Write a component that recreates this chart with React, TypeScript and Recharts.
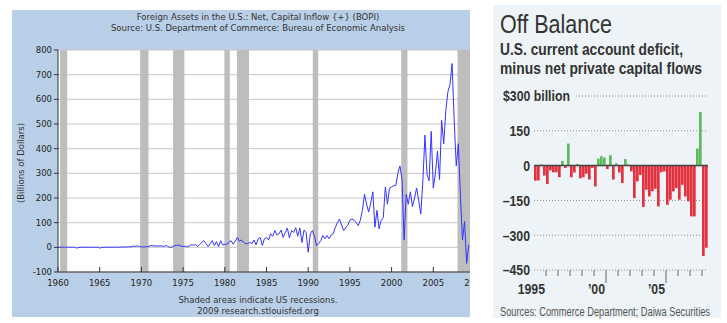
import React from 'react';
import {
  ComposedChart,
  BarChart,
  Bar,
  Cell,
  Line,
  XAxis,
  YAxis,
  CartesianGrid,
  ReferenceArea,
  ReferenceLine,
} from 'recharts';

// Left: FRED series BOPI, quarterly from 1960Q1, billions of dollars
const inflowStartYear = 1960;
const inflowByQuarter = [
  0, 0, 1, 0, 1, 0, 0, 1, 0, -3, 0, 0, 1, 0, 1, 0, 1, 0, 0, 1,
  -3, 0, 0, 1, 0, 1, 0, 1, 1, 0, 1, 1, 2, 1, 2, 2, 5, 4, 6, 4,
  2, 1, 2, 3, 5, 8, 5, 6, 5, 6, 5, 4, 8, 2, 0, 2, 7, 8, 9, 5,
  3, 5, 2, 6, 10, 9, 11, 3, 12, 20, 27, 15, 3, 15, 27, 7, 23, 3, 27, 10,
  12, 13, 20, 27, 13, 25, 40, 25, 30, 20, 15, 15, 20, 15, 30, 10, 35, 40, 8, 35,
  40, 30, 55, 45, 68, 50, 55, 70, 40, 60, 78, 38, 68, 60, 80, 45, 78, 20, 70, 60,
  -20, 55, 68, 45, 7, 15, 27, 48, 35, 48, 35, 50, 55, 80, 100, 115, 90, 68, 80, 90,
  110, 115, 110, 100, 88, 110, 150, 215, 175, 143, 180, 225, 82, 150, 75, 110, 120, 245, 175, 240,
  245, 250, 250, 300, 330, 275, 30, 215, 175, 225, 165, 200, 240, 190, 135, 270, 455, 295, 270, 470,
  240, 300, 390, 275, 515, 420, 555, 630, 660, 745, 520, 330, 420, 210, 30, 105, -65, 10,
];
const inflowData = inflowByQuarter.map((value, i) => ({ year: inflowStartYear + i / 4, value }));

const recessionStarts = [1960.25, 1969.85, 1973.8, 1979.95, 1981.45, 1990.55, 2001.15, 2007.9];
const recessionEnds = [1961.1, 1970.85, 1975.15, 1980.6, 1982.9, 1991.2, 2001.9, 2009.5];
const inflowYearTicks = [1960, 1965, 1970, 1975, 1980, 1985, 1990, 1995, 2000, 2005, 2010];
const inflowValueTicks = [-100, 0, 100, 200, 300, 400, 500, 600, 700, 800];

// Right: WSJ "Off Balance", quarterly from 1995Q1, billions of dollars
const balanceStartYear = 1995;
const balanceByQuarter = [
  -65, -64, 5, -43, -79, -21, -29, -29, -50, 20, -10, 95, -50, -30, 7, -55,
  -50, -35, -60, -10, -90, 30, 40, 35, -15, 45, -60, 10, -30, -75, 28, 5,
  -25, -140, -68, -40, -178, -104, -133, -111, -100, -176, -29, -25, -169, -147, -111, -97,
  -147, -83, -133, -154, -219, -219, 74, 231, -390, -354,
];
const balanceData = balanceByQuarter.map((value, i) => ({
  year: balanceStartYear + i / 4 + 0.125,
  value,
}));
const balanceValueTicks = [-450, -300, -150, 0, 150, 300];
const balanceYearTicks = [1996, 1997, 1998, 1999, 2000, 2001, 2002, 2003, 2004, 2005, 2006, 2007, 2008, 2009];
const balanceYearLabels: Record<number, string> = { 1996: '1995', 2001: '\u201900', 2006: '\u201905' };
const balanceLongTicks = [2001, 2006];

const fredFont = "'DejaVu Sans', Verdana, sans-serif";
const wsjFont = "'Liberation Sans', Arial, sans-serif";
const narrow = 0.82; // Liberation Sans squeezed to look like the WSJ narrow face
const fredBg = '#b9cfe7';
const wsjBg = '#edf3f6';

const InflowYearTick = ({ x, y, payload }: any) => (
  <g>
    <line x1={x} x2={x} y1={y} y2={y - 5} stroke="#333" />
    <text x={x} y={y + 14} textAnchor="middle" fontSize={8.5} fill="#222" fontFamily={fredFont}>
      {payload.value}
    </text>
  </g>
);

const NarrowText = ({ x, y, anchor, children, size = 15 }: any) => (
  <g transform={`translate(${x},${y}) scale(${narrow},1)`}>
    <text x={0} y={0} textAnchor={anchor} fontSize={size} fontWeight="bold" fill="#333" fontFamily={wsjFont}>
      {children}
    </text>
  </g>
);

const BalanceValueTick = ({ x, y, payload }: any) => {
  const v = payload.value;
  if (v === 300) {
    return (
      <g>
        <rect x={x - 28} y={y - 8} width={72} height={16} fill={wsjBg} />
        <NarrowText x={x - 27} y={y + 5.3} anchor="start">$300 billion</NarrowText>
      </g>
    );
  }
  const label = v < 0 ? `\u2013${Math.abs(v)}` : String(v);
  return (
    <NarrowText x={x} y={y + 5.3} anchor="end">
      {label}
    </NarrowText>
  );
};

const BalanceYearTick = ({ x, y, payload }: any) => {
  const v = payload.value;
  const long = balanceLongTicks.includes(v);
  return (
    <g>
      <line x1={x} x2={x} y1={y} y2={y + (long ? 13 : 6)} stroke="#666" />
      {balanceYearLabels[v] && (
        <NarrowText x={x - 1} y={y + 24} anchor="end">
          {balanceYearLabels[v]}
        </NarrowText>
      )}
    </g>
  );
};

export default function App() {
  return (
    <div style={{ position: 'absolute', left: 0, top: 0, width: 727, height: 323, background: '#fff', overflow: 'hidden' }}>
      {/* FRED panel */}
      <div style={{ position: 'absolute', left: 12, top: 10, width: 458, height: 307, background: fredBg, overflow: 'hidden' }}>
        <ComposedChart
          width={520}
          height={307}
          data={inflowData}
          margin={{ top: 40, right: 57, bottom: 25, left: 0 }}
        >
          <CartesianGrid vertical={false} stroke="#c6c6c6" fill="#fff" />
          {recessionStarts.map((s, i) => (
            <ReferenceArea key={s} x1={s} x2={recessionEnds[i]} fill="#bdbdbd" fillOpacity={1} stroke="none" />
          ))}
          <XAxis
            dataKey="year"
            type="number"
            domain={[1960, 2010]}
            ticks={inflowYearTicks}
            interval={0}
            axisLine={{ stroke: '#333' }}
            tickLine={false}
            tickSize={0}
            tickMargin={0}
            height={20}
            tick={<InflowYearTick />}
          />
          <YAxis
            type="number"
            domain={[-100, 800]}
            ticks={inflowValueTicks}
            interval={0}
            width={46}
            axisLine={{ stroke: '#333' }}
            tickLine={{ stroke: '#333' }}
            tickSize={4}
            tickMargin={2}
            tick={{ fontSize: 8.5, fill: '#222', fontFamily: fredFont }}
          />
          <Line
            type="linear"
            dataKey="value"
            stroke="#3434ff"
            strokeWidth={1}
            dot={false}
            isAnimationActive={false}
          />
        </ComposedChart>
      </div>

      {/* WSJ panel */}
      <div style={{ position: 'absolute', left: 493, top: 5, width: 228, height: 313, background: wsjBg }} />
      <div style={{ position: 'absolute', left: 493, top: 85 }}>
        <BarChart
          width={228}
          height={225}
          data={balanceData}
          margin={{ top: 11, right: 13, bottom: 10, left: 0 }}
          barCategoryGap={0}
          barGap={0}
        >
          <CartesianGrid vertical={false} stroke="#8a8a8a" strokeDasharray="1 2" />
          <XAxis
            dataKey="year"
            type="number"
            domain={[1995, 2009.5]}
            ticks={balanceYearTicks}
            interval={0}
            axisLine={false}
            tickLine={false}
            tickSize={0}
            tickMargin={0}
            height={30}
            tick={<BalanceYearTick />}
          />
          <YAxis
            type="number"
            domain={[-450, 300]}
            ticks={balanceValueTicks}
            interval={0}
            width={41}
            axisLine={false}
            tickLine={false}
            tickSize={0}
            tickMargin={4}
            tick={<BalanceValueTick />}
          />
          <Bar dataKey="value" barSize={3} isAnimationActive={false}>
            {balanceData.map((d) => (
              <Cell key={d.year} fill={d.value >= 0 ? '#5fba5f' : '#e2323f'} />
            ))}
          </Bar>
          <ReferenceLine y={0} stroke="#444" strokeWidth={1.5} />
        </BarChart>
      </div>

      {/* Titles and notes */}
      <svg width={727} height={323} style={{ position: 'absolute', left: 0, top: 0, pointerEvents: 'none' }}>
        <g fontFamily={fredFont} fontSize={8.5} fill="#333" textAnchor="middle">
          <text x={258} y={19.5}>Foreign Assets in the U.S.: Net, Capital Inflow {'{+}'} (BOPI)</text>
          <text x={258} y={30.5}>Source: U.S. Department of Commerce: Bureau of Economic Analysis</text>
          <text x={258} y={303}>Shaded areas indicate US recessions.</text>
          <text x={258} y={314}>2009 research.stlouisfed.org</text>
          <text x={24} y={163} transform="rotate(-90 24 163)">(Billions of Dollars)</text>
        </g>
        <g fontFamily={wsjFont} fill="#333">
          <text x={500} y={33} fontSize={26} textLength={112} lengthAdjust="spacingAndGlyphs">
            Off Balance
          </text>
          <text x={500} y={55} fontSize={17} fontWeight="bold" textLength={183} lengthAdjust="spacingAndGlyphs">
            U.S. current account deficit,
          </text>
          <text x={500} y={74} fontSize={17} fontWeight="bold" textLength={202} lengthAdjust="spacingAndGlyphs">
            minus net private capital flows
          </text>
          <text x={500} y={316} fontSize={12} fill="#555" textLength={210} lengthAdjust="spacingAndGlyphs">
            Sources: Commerce Department; Daiwa Securities
          </text>
        </g>
      </svg>
    </div>
  );
}
